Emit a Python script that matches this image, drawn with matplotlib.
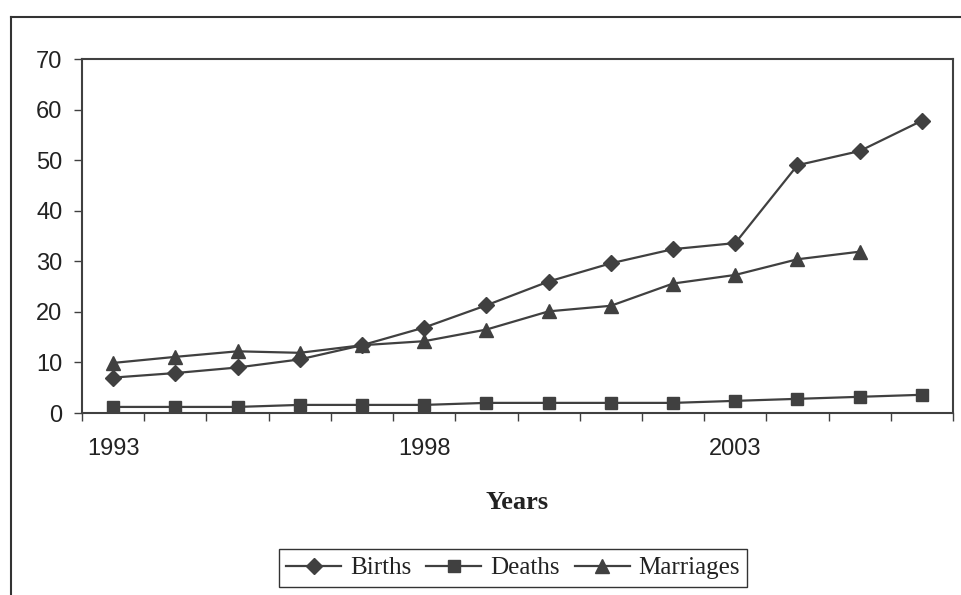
import numpy as np
import matplotlib
matplotlib.use("Agg")
import matplotlib.pyplot as plt
from matplotlib.lines import Line2D

# data
years = ["1993", "1994", "1995", "1996", "1997", "1998", "1999",
         "2000", "2001", "2002", "2003", "2004", "2005", "2006"]
births = [7.0, 7.9, 9.0, 10.6, 13.4, 16.9, 21.3, 26.0, 29.6, 32.4, 33.6, 49.0, 51.8, 57.8]
deaths = [1.2, 1.2, 1.2, 1.6, 1.6, 1.6, 2.0, 2.0, 2.0, 2.0, 2.4, 2.8, 3.2, 3.6]
marriages = [9.9, 11.1, 12.2, 11.9, 13.4, 14.2, 16.5, 20.1, 21.2, 25.6, 27.3, 30.4, 31.9, np.nan]
shown_labels = ["1993", "1998", "2003"]

dark = "#404040"
W, H = 961, 595

fig = plt.figure(figsize=(W / 100, H / 100), dpi=100)
ax = fig.add_axes([82 / W, 1 - 413 / H, (953 - 82) / W, (413 - 59) / H])

x = np.arange(len(years)) + 0.5
ax.plot(x, births, color=dark, lw=1.6, marker="D", ms=8, label="Births")
ax.plot(x, deaths, color=dark, lw=1.6, marker="s", ms=9, label="Deaths")
ax.plot(x, marriages, color=dark, lw=1.6, marker="^", ms=10, label="Marriages")

ax.set_xlim(0, len(years))
ax.set_ylim(0, 70)
ax.set_yticks(range(0, 71, 10))

# ticks at category boundaries, labels centred on every fifth year
ax.set_xticks(np.arange(len(years) + 1))
ax.set_xticklabels([])
ax.set_xticks([years.index(y) + 0.5 for y in shown_labels], minor=True)
ax.set_xticklabels(shown_labels, minor=True)
ax.tick_params(axis="x", which="major", length=6, width=1, color=dark, direction="out")
ax.tick_params(axis="x", which="minor", length=0, pad=18, labelsize=17)
ax.tick_params(axis="y", length=6, width=1, color=dark, direction="out", pad=8, labelsize=17)
for lab in ax.get_xticklabels(minor=True) + ax.get_yticklabels():
    lab.set_fontfamily("Liberation Sans")
    lab.set_color("#222222")

for s in ax.spines.values():
    s.set_color(dark)
    s.set_linewidth(1.5)

ax.set_xlabel("Years", fontfamily="Liberation Serif", fontweight="bold", fontsize=19,
              labelpad=22, color="#222222")

leg = fig.legend(loc="center", bbox_to_anchor=(513 / W, 1 - 568 / H), ncol=3,
                 prop={"family": "Liberation Serif", "size": 18},
                 frameon=True, fancybox=False, framealpha=1, edgecolor="#333333",
                 handlelength=2.2, handletextpad=0.35, columnspacing=0.6,
                 borderpad=0.3, labelcolor="#222222")
leg.get_frame().set_linewidth(1.0)

# outer chart frame (only top and left edges fall inside the picture)
fig.add_artist(Line2D([11 / W, 1], [1 - 17 / H, 1 - 17 / H], color="#333333", lw=1.5))
fig.add_artist(Line2D([11 / W, 11 / W], [0, 1 - 17 / H], color="#333333", lw=1.5))

fig.savefig("out.png", dpi=100)
